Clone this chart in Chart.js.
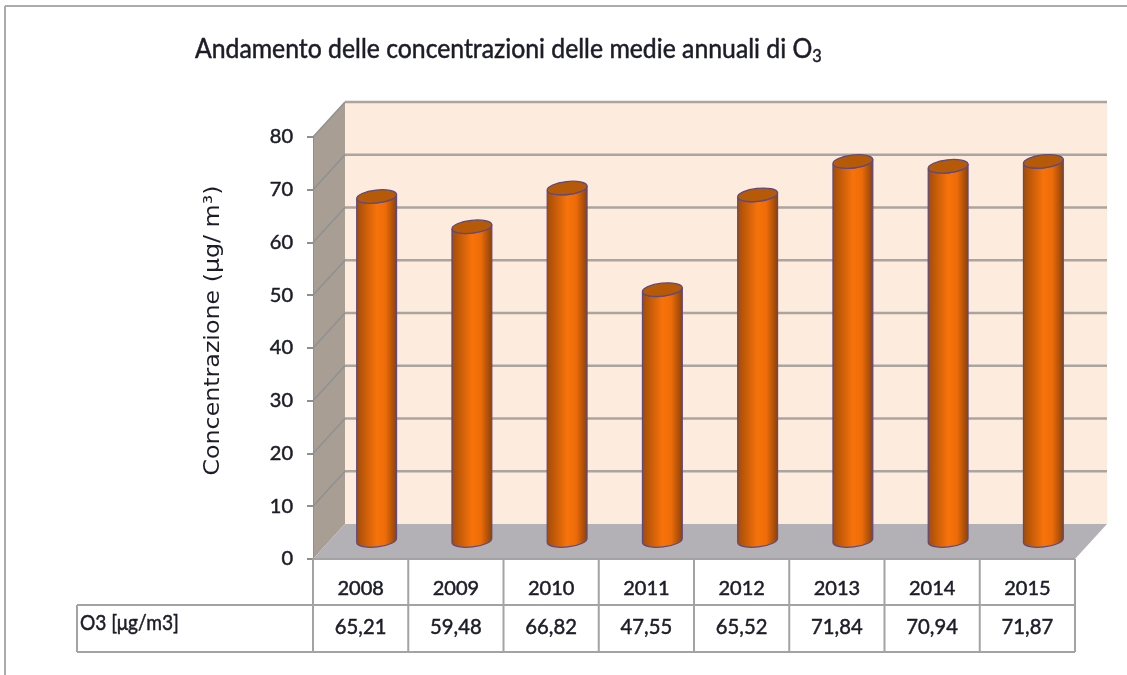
<!DOCTYPE html>
<html>
<head>
<meta charset="utf-8">
<style>
  html, body { margin: 0; padding: 0; background: #fff; overflow: hidden; }
  /* the reference is a soft, upscaled screenshot */
  canvas { display: block; filter: blur(0.55px); }
</style>
</head>
<body>
<canvas id="myChart" width="1127" height="675"></canvas>
<script src="https://cdn.jsdelivr.net/npm/chart.js"></script>
<script>
  const years = ['2008', '2009', '2010', '2011', '2012', '2013', '2014', '2015'];
  const o3Values = [65.21, 59.48, 66.82, 47.55, 65.52, 71.84, 70.94, 71.87];
  const yTicks = [0, 10, 20, 30, 40, 50, 60, 70, 80];
  const chartTitle = 'Andamento delle concentrazioni delle medie annuali di O';
  const yTitle = 'Concentrazione (μg/ m³)';
  const rowLabel = 'O3 [μg/m3]';

  const textFont = 'Lato, sans-serif';
  const textColor = '#1c1c28';
  const lineGray = '#a3a3a3';

  // how far the back wall sits behind the front plane of the fake 3D box
  const depthX = 32;
  const depthY = 35;

  function poly(ctx, pts, fill) {
    ctx.beginPath();
    pts.forEach((p, i) => i ? ctx.lineTo(p[0], p[1]) : ctx.moveTo(p[0], p[1]));
    ctx.closePath();
    ctx.fillStyle = fill;
    ctx.fill();
  }

  function seg(ctx, x1, y1, x2, y2, color, width) {
    ctx.beginPath();
    ctx.moveTo(x1, y1);
    ctx.lineTo(x2, y2);
    ctx.strokeStyle = color;
    ctx.lineWidth = width;
    ctx.stroke();
  }

  // text squeezed sideways, the reference font is narrower than Lato
  function squeezed(ctx, text, x, y, sx) {
    ctx.save();
    ctx.translate(x, y);
    ctx.scale(sx, 1);
    ctx.lineWidth = 0.5;
    ctx.strokeStyle = textColor;
    ctx.strokeText(text, 0, 0);
    ctx.fillText(text, 0, 0);
    ctx.restore();
  }

  const box3d = {
    id: 'box3d',
    beforeDraw(chart) {
      const ctx = chart.ctx;
      const a = chart.chartArea;
      const y = chart.scales.y;
      ctx.save();
      // page frame
      seg(ctx, 5, 675, 5, 6, '#ababab', 2);
      seg(ctx, 5, 6, 1127, 6, '#ababab', 2);
      // back wall, side wall, floor
      poly(ctx, [[a.left + depthX, a.top - depthY], [a.right + depthX, a.top - depthY], [a.right + depthX, a.bottom - depthY], [a.left + depthX, a.bottom - depthY]], '#fdebdd');
      poly(ctx, [[a.left, a.top], [a.left + depthX, a.top - depthY], [a.left + depthX, a.bottom - depthY], [a.left, a.bottom]], '#a89e94');
      poly(ctx, [[a.left, a.bottom], [a.left + depthX, a.bottom - depthY], [a.right + depthX, a.bottom - depthY], [a.right, a.bottom]], '#b4b1b6');
      yTicks.forEach(v => {
        const py = y.getPixelForValue(v);
        if (v > 0) {
          seg(ctx, a.left + depthX, py - depthY, a.right + depthX, py - depthY, '#aaa59e', 2.5);
          seg(ctx, a.left, py, a.left + depthX, py - depthY, '#8d9291', 1.5);
        }
      });
      ctx.restore();
    },
    afterDatasetsDraw(chart) {
      const ctx = chart.ctx;
      chart.getDatasetMeta(0).data.forEach(bar => {
        const cx = bar.x + depthX / 2;
        const topY = bar.y - depthY / 2 - 1;
        const baseY = bar.base - depthY / 2;
        const rx = bar.width / 2;
        const ry = 6.5;
        const rot = -0.11;
        const grad = ctx.createLinearGradient(cx - rx, 0, cx + rx, 0);
        grad.addColorStop(0, '#a34c08');
        grad.addColorStop(0.5, '#f7730a');
        grad.addColorStop(0.72, '#ee6c08');
        grad.addColorStop(1, '#8c4208');
        ctx.save();
        ctx.beginPath();
        ctx.ellipse(cx, baseY, rx, ry, rot, 0, Math.PI);
        ctx.ellipse(cx, topY, rx, ry, rot, Math.PI, 0, true);
        ctx.closePath();
        ctx.fillStyle = grad;
        ctx.fill();
        ctx.strokeStyle = '#5f4a80';
        ctx.lineWidth = 1.3;
        ctx.stroke();
        ctx.beginPath();
        ctx.ellipse(cx, topY, rx, ry, rot, 0, Math.PI * 2);
        ctx.fillStyle = '#b65a08';
        ctx.fill();
        ctx.stroke();
        ctx.restore();
      });
    },
    afterDraw(chart) {
      const ctx = chart.ctx;
      const a = chart.chartArea;
      const x = chart.scales.x;
      const rowTop = a.bottom + 46;
      const rowBottom = a.bottom + 93;
      const tableLeft = 77;
      const colW = (a.right - a.left) / years.length;
      ctx.save();
      // data table under the axis
      seg(ctx, a.left, a.bottom, a.right, a.bottom, lineGray, 2);
      seg(ctx, tableLeft, rowTop, a.right, rowTop, lineGray, 2);
      seg(ctx, tableLeft, rowBottom, a.right, rowBottom, lineGray, 2);
      seg(ctx, tableLeft, rowTop, tableLeft, rowBottom, lineGray, 2);
      for (let i = 0; i <= years.length; i++) {
        const px = a.left + i * colW;
        seg(ctx, px, a.bottom, px, rowBottom, lineGray, 2);
      }
      ctx.fillStyle = textColor;
      ctx.textBaseline = 'middle';
      ctx.textAlign = 'center';
      ctx.font = '22px ' + textFont;
      o3Values.forEach((v, i) => {
        squeezed(ctx, v.toFixed(2).replace('.', ','), x.getPixelForValue(i), rowTop + 22, 0.92);
      });
      ctx.textAlign = 'left';
      ctx.font = '22px ' + textFont;
      squeezed(ctx, rowLabel, 80, rowTop + 18, 0.87);

      // chart title, with the subscript 3 set by hand
      ctx.font = '26px ' + textFont;
      squeezed(ctx, chartTitle, 195, 50, 0.953);
      const w = ctx.measureText(chartTitle).width * 0.953;
      ctx.font = '17px ' + textFont;
      squeezed(ctx, '3', 195 + w, 57, 0.953);

      // y axis title, centred on the whole 3D box
      ctx.translate(214, (a.top - depthY + a.bottom) / 2);
      ctx.rotate(-Math.PI / 2);
      ctx.scale(1.13, 1);
      ctx.textAlign = 'center';
      ctx.font = '21px "DejaVu Sans", sans-serif';
      ctx.fillText(yTitle, 0, 0);
      ctx.restore();
    }
  };

  const myChart = new Chart(document.getElementById('myChart'), {
    type: 'bar',
    data: {
      labels: years,
      datasets: [{
        label: 'O3 [μg/m3]',
        data: o3Values,
        backgroundColor: 'rgba(0,0,0,0)',
        categoryPercentage: 1,
        barPercentage: 0.42
      }]
    },
    options: {
      responsive: false,
      animation: false,
      layout: { padding: { top: 137, right: 52, left: 0, bottom: 0 } },
      plugins: { legend: { display: false }, tooltip: { enabled: false }, title: { display: false } },
      scales: {
        x: {
          afterFit(s) { s.height = 116; },
          grid: { display: false },
          border: { display: false },
          ticks: { color: textColor, font: { family: textFont, size: 20 }, padding: 10, maxRotation: 0, textStrokeColor: textColor, textStrokeWidth: 0.5 }
        },
        y: {
          min: 0,
          max: 80,
          afterFit(s) { s.width = 313; },
          grid: { drawOnChartArea: false, tickLength: 6, color: '#8f8f8f', lineWidth: 2 },
          border: { color: '#8f8f8f', width: 1 },
          ticks: { stepSize: 10, color: textColor, font: { family: textFont, size: 20 }, padding: 14, textStrokeColor: textColor, textStrokeWidth: 0.5 }
        }
      }
    },
    plugins: [box3d]
  });
</script>
</body>
</html>
